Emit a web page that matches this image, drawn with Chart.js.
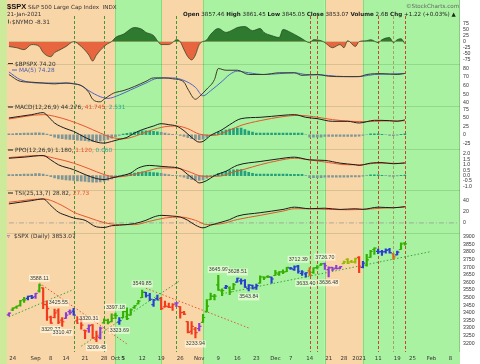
<!DOCTYPE html>
<html>
<head>
<meta charset="utf-8">
<script src="https://cdn.jsdelivr.net/npm/chart.js@4.4.1/dist/chart.umd.min.js"></script>
<style>
html,body{margin:0;padding:0;background:#fff}
canvas{display:block}
</style>
</head>
<body>
<canvas id="c" width="480" height="364"></canvas>
<script>
// trading days shown on the x axis
const months = [
  ['2020-08', [21,24,25,26,27,28,31]],
  ['2020-09', [1,2,3,4,8,9,10,11,14,15,16,17,18,21,22,23,24,25,28,29,30]],
  ['2020-10', [1,2,5,6,7,8,9,12,13,14,15,16,19,20,21,22,23,26,27,28,29,30]],
  ['2020-11', [2,3,4,5,6,9,10,11,12,13,16,17,18,19,20,23,24,25,27,30]],
  ['2020-12', [1,2,3,4,7,8,9,10,11,14,15,16,17,18,21,22,23,24,28,29,30,31]],
  ['2021-01', [4,5,6,7,8,11,12,13,14,15,19,20,21,22,25,26,27,28,29]],
  ['2021-02', [1,2,3,4,5,8,9,10]]
];
const dates = [];
months.forEach(([ym, days]) => days.forEach(d => dates.push(ym + '-' + String(d).padStart(2, '0'))));

const xTickDates = ['2020-08-24','2020-09-01','2020-09-08','2020-09-14','2020-09-21','2020-09-28','2020-10-01','2020-10-05',
  '2020-10-12','2020-10-19','2020-10-26','2020-11-02','2020-11-09','2020-11-16','2020-11-23','2020-12-01','2020-12-07',
  '2020-12-14','2020-12-21','2020-12-28','2021-01-04','2021-01-11','2021-01-19','2021-01-25','2021-02-01','2021-02-08'];
const xTickText = ['24','Sep','8','14','21','28','Oct','5','12','19','26','Nov','9','16','23','Dec','7','14','21','28','2021','11','19','25','Feb','8'];
const boldTicks = ['Sep','Oct','Nov','Dec','2021','Feb'];

// $SPX daily bars
const opens = [3386,3418,3435,3449,3486,3494,3509,3507,3543,3564,3453,3371,3369,3412,3352,3363,3407,3411,3346,3357,
  3285,3296,3320,3226,3237,3334,3350,3342,3385,3339,3368,3408,3384,3434,3459,3500,3534,3515,3453,3493,
  3494,3439,3440,3438,3464,3441,3403,3342,3278,3293,3296,3337,3406,3486,3508,3583,3544,3564,3563,3553,
  3601,3610,3612,3559,3580,3567,3595,3635,3638,3634,3645,3654,3669,3671,3694,3684,3706,3659,3656,3675,
  3666,3697,3713,3723,3684,3698,3693,3694,3723,3751,3736,3734,3764,3699,3713,3764,3816,3803,3802,3802,
  3815,3788,3781,3816,3857.46];
const highs = [3399,3432,3444,3481,3501,3509,3514,3528,3588.11,3564,3479,3379,3424,3425.55,3369,3402,3419,3429,3375,3362,
  3286,3320.31,3323,3279,3306,3360,3358,3393,3397.18,3369,3409,3432,3426,3447,3482,3549.85,3535,3527,3489,3516,
  3502,3476,3464,3461,3466,3441,3410,3342,3342,3305,3330,3389,3486,3529,3521,3645.99,3557,3581,3570,3593,
  3628.51,3623,3619,3585,3582,3589,3643,3636,3645,3634,3679,3670,3682,3699,3698,3708,3712.39,3678,3665,3697,
  3695,3711,3725,3726.70,3702,3698,3712,3703,3740,3756,3744,3760,3770,3738,3784,3811,3827,3818,3810,3820,
  3823,3789,3805,3859,3861.45];
const lows = [3380,3414,3428,3444,3468,3485,3493,3494,3535,3427,3349,3329.27,3366,3329,3310.47,3363,3389,3384,3328,3292,
  3229,3271,3232,3209.45,3228,3333,3327,3340,3361,3323.69,3368,3354,3384,3428,3458,3500,3502,3480,3441,3484,
  3420,3436,3433,3416,3440,3364,3388,3268,3260,3233.94,3280,3337,3405,3486,3485,3547,3512,3558,3519,3553,
  3601,3588,3567,3543.84,3556,3553,3594,3618,3630,3595,3645,3645,3657,3670,3685,3678,3661,3645,3633.40,3645,
  3659,3688,3711,3685,3636.48,3676,3689,3690,3723,3723,3730,3726,3663,3695,3706,3764,3784,3789,3777,3792,
  3792,3750,3780,3816,3845.05];
const closes = [3397,3431,3444,3479,3485,3508,3500,3527,3581,3455,3427,3332,3399,3339,3341,3384,3401,3385,3357,3319,
  3281,3316,3237,3247,3298,3352,3335,3363,3381,3348,3409,3361,3419,3447,3477,3534,3512,3489,3483,3484,
  3427,3443,3436,3453,3465,3401,3391,3271,3310,3270,3310,3369,3443,3510,3509,3551,3546,3573,3537,3585,
  3627,3610,3568,3582,3558,3578,3635,3630,3638,3622,3662,3669,3667,3699,3692,3702,3673,3668,3663,3647,
  3695,3701,3722,3709,3695,3687,3690,3703,3735,3727,3732,3756,3701,3727,3748,3804,3825,3800,3801,3810,
  3796,3768,3799,3852,3853.07];
const barKind = ('p gggg bb p g rrrrrr pp b rrr p rr p gggg b gggggg bbbb rrrr p rrrrr p gggggg b gg bbbbbb ggg b ' +
  'gggg bbbbb o ggg ppppp yyyy r b ggg bbbb o b gg').replace(/ /g, '').split('');

// value labels on the price panel
const annoIdx  = [8,13,11,14,21,23,28,29,35,49,55,60,63,76,78,83,84];
const annoSide = ['h','h','l','l','h','l','h','l','h','l','h','h','l','h','l','h','l'];

// trendlines [day index, price]
const trendFrom = [[0,3373],[8,3595],[19,3180],[36,3561],[56,3525]];
const trendTo   = [[17,3553],[31,3195],[45,3612],[63,3300],[111,3803]];
const trendKind = ['up','down','up','down','up'];

// indicator readings [day index, value]
const nymo = [[0,-20],[2,-25],[4,-33],[6,-12],[8,-20],[9,-45],[11,-62],[12,-45],[13,-37],[15,-20],[17,0],[19,-20],
  [21,-55],[22,-80],[23,-55],[25,-20],[26,-8],[27,0],[28,17],[30,30],[33,58],[35,50],[36,38],[38,25],[39,4],[40,-12],
  [42,-12],[43,-4],[44,8],[45,0],[46,-33],[47,-62],[48,-75],[49,-55],[50,-12],[52,8],[53,30],[55,54],[57,38],[59,50],
  [60,58],[62,62],[64,45],[66,54],[67,38],[69,25],[71,17],[72,50],[74,38],[76,21],[77,12],[79,-4],[80,8],[82,4],
  [83,-4],[85,-25],[87,-12],[88,-25],[89,4],[91,-20],[92,0],[94,4],[95,8],[97,-4],[98,8],[100,17],[101,-4],[102,8],
  [103,12],[104,-8.31]];
const bpspx = [[0,73],[3,65],[6,64],[9,63],[12,62],[15,63],[17,62],[19,60],[21,52],[22,44],[24,41],[25,44],[27,50],
  [28,52],[30,54],[33,59],[36,65],[38,69],[41,69],[43,68],[46,64],[47,56],[49,44],[50,47],[52,56],[54,67],[55,80],
  [57,78],[60,78],[63,73],[67,73],[71,75],[75,75],[77,72],[81,73],[84,71],[88,70.5],[92,70.5],[94,73],[98,74],
  [102,73],[104,74.2]];
const bpMa = [[0,76],[3,67],[8,63],[15,63],[19,60],[21,54],[24,47],[26,45],[29,49],[32,55],[36,63],[39,68.5],[43,69],
  [46,66],[49,58],[51,48],[53,54],[56,65],[58,73],[60,77],[63,75],[67,73],[71,74],[75,75],[78,73],[82,72.5],[86,71],
  [90,70.5],[93,71],[96,73],[100,73.5],[104,74.28]];
const macdLine = [[0,50],[3,55],[6,60],[9,66],[10,58],[12,35],[15,18],[17,10],[20,-8],[23,-22],[25,-25],[27,-20],
  [29,-14],[31,-8],[33,5],[35,15],[38,26],[40,33],[42,30],[44,26],[46,12],[48,-8],[50,-22],[51,-20],[53,-2],[56,15],
  [58,30],[61,48],[66,52],[72,58],[75,60],[78,52],[81,48],[85,40],[89,40],[92,35],[96,43],[100,42],[102,40],[104,44.28]];
const macdSig = [[0,47],[9,60],[12,55],[16,42],[20,25],[24,5],[27,-8],[30,-12],[33,-5],[37,12],[41,24],[44,26],[47,18],
  [50,2],[54,-2],[58,14],[61,28],[66,42],[72,54],[76,58],[80,54],[85,45],[90,40],[94,39],[98,41],[104,41.75]];
const macdHist = [3,3,4,4,5,5,5,6,6,5,2,
  -3,-7,-10,-12,-13,-14,-15,-16,-17,-18,-19,-20,-20,-19,-17,-14,-10,-6,-2,
  2,4,6,8,10,12,12,11,10,9,7,5,3,1,0,
  -2,-5,-9,-12,-14,-15,-13,-8,-3,2,7,11,14,17,19,20,
  20,15,11,8,5,5,5,5,5,5,5,5,5,5,5,5,5,0,
  -7,-7,-7,-7,-5,-5,-5,-5,-5,-5,-5,-5,-5,-4,-2,0,3,3,3,1,0,-2,-3,-1,1,2.5];
const ppoLine = [[0,1.6],[4,1.7],[9,1.85],[11,1.45],[13,1.0],[17,0.55],[20,0.1],[23,-0.27],[25,-0.36],[27,-0.22],
  [29,-0.06],[32,0.24],[34,0.7],[37,0.94],[40,0.85],[42,0.8],[45,0.64],[47,0.1],[49,-0.45],[50,-0.67],[52,-0.45],
  [54,0],[57,0.4],[60,0.95],[66,1.3],[71,1.55],[75,1.7],[79,1.45],[83,1.4],[87,1.15],[91,1.0],[92,0.94],[95,1.15],
  [98,1.2],[101,1.09],[104,1.18]];
const ppoSig = [[0,1.66],[8,1.85],[12,1.6],[17,1.15],[21,0.64],[25,0.1],[28,-0.12],[32,0.03],[36,0.4],[40,0.7],
  [44,0.7],[47,0.4],[51,-0.06],[55,-0.06],[59,0.33],[62,0.6],[66,1.0],[71,1.4],[75,1.6],[79,1.45],[84,1.2],[89,1.0],
  [92,1.0],[97,1.15],[104,1.12]];
const ppoHist = [0.09,0.09,0.12,0.12,0.15,0.15,0.15,0.18,0.18,0.15,0.06,
  -0.09,-0.21,-0.3,-0.36,-0.39,-0.42,-0.45,-0.48,-0.51,-0.54,-0.57,-0.6,-0.6,-0.57,-0.51,-0.42,-0.3,-0.18,-0.06,
  0.06,0.12,0.18,0.24,0.3,0.35,0.35,0.32,0.29,0.26,0.2,0.15,0.09,0.03,0,
  -0.06,-0.15,-0.27,-0.36,-0.42,-0.45,-0.39,-0.24,-0.09,0.06,0.2,0.31,0.39,0.47,0.53,0.55,
  0.55,0.41,0.3,0.22,0.14,0.14,0.14,0.14,0.14,0.14,0.14,0.14,0.14,0.13,0.13,0.13,0.13,0,
  -0.19,-0.19,-0.19,-0.19,-0.14,-0.14,-0.14,-0.14,-0.14,-0.14,-0.14,-0.13,-0.13,-0.11,-0.05,0,0.08,0.08,0.08,0.03,0,
  -0.05,-0.08,-0.03,0.03,0.06];
const tsiLine = [[0,33.6],[3,36.5],[6,39.4],[9,42.3],[11,30.7],[13,19],[15,13.3],[17,8.7],[20,4.6],[23,-7],[25,-8],
  [27,-5],[29,-4],[33,-1.2],[36,4.6],[38,10.4],[40,13.3],[43,12],[45,10.4],[47,4.6],[49,-4],[51,-8.7],[53,-4],[56,1.7],
  [58,5.8],[60,12],[66,18],[72,23.8],[75,27.8],[79,25],[83,26],[87,23.8],[91,25],[93,24],[97,27.8],[101,26.7],[104,28.82]];
const tsiSig = [[0,36.5],[9,42.3],[14,30.7],[17,19],[21,9.3],[25,0.6],[29,-3],[33,-3],[37,2.9],[41,8.7],[45,10.4],
  [49,4.6],[52,-3],[56,-1.2],[60,6],[66,13.3],[72,20.9],[75,25],[79,25],[84,23.8],[89,23.2],[93,23.8],[98,26],[104,27.73]];

// shaded zones (start day index) and marker lines
const zoneStart = [0, 28, 40, 51, 83, 93];
const zoneKind = ['tan', 'green', 'tan', 'green', 'tan', 'green'];
const markIdx  = [17, 25, 44, 79, 81, 97, 101, 104];
const markKind = ['g', 'g', 'g', 'r', 'r', 'r', 'o', 'r'];

// y tick values
const nymoTicks = [75, 50, 25, 0, -25, -50, -75];
const bpTicks = [80, 70, 60, 50, 40];
const macdTicks = [75, 50, 25, 0, -25];
const ppoTicks = [2.0, 1.5, 1.0, 0.5, 0.0, -0.5, -1.0];
const tsiTicks = [40, 20, 0];
const priceTicks = [3900,3850,3800,3750,3700,3650,3600,3550,3500,3450,3400,3350,3300,3250,3200];

const ZONE = {tan: '#f9d6a7', green: '#a9f2a1'};
const BAR = {g: '#34b000', r: '#f23b1e', b: '#2a3fd0', p: '#8b3fd0', o: '#d06a10', y: '#98b800'};
const MARK = {g: '#3d9b34', r: '#d2402c', o: '#a8a060'};
const SANS = 'DejaVu Sans';

const pts = arr => arr.map(([i, v]) => ({x: dates[i], y: v}));
const zoneAt = i => { let k = 0; zoneStart.forEach((s, j) => { if (i >= s) k = j; }); return zoneKind[k]; };
const histColor = c => (c.raw > 0 && zoneAt(c.dataIndex) === 'green') ? '#23a07c' : '#7d9696';

function line(data, yAxisID, color, extra) {
  return Object.assign({type: 'line', data: pts(data), yAxisID, borderColor: color, borderWidth: 1,
    pointRadius: 0, cubicInterpolationMode: 'monotone', order: 1}, extra || {});
}
function hist(data, yAxisID) {
  return {type: 'bar', data, yAxisID, backgroundColor: histColor, barThickness: 2, grouped: false, order: 3};
}
function yAxis(weight, min, max, ticks, fmt) {
  return {
    position: 'right', stack: 'panels', stackWeight: weight, min, max,
    grid: {display: false, drawTicks: false}, border: {display: false},
    afterBuildTicks: s => { s.ticks = ticks.map(v => ({value: v})); },
    afterFit: s => { s.width = 20; },
    ticks: {autoSkip: false, padding: 3, color: '#333', font: {family: 'Liberation Sans', size: 5.2},
      callback: fmt || (v => String(v))}
  };
}

const deco = {
  id: 'deco',
  beforeDraw(chart) {
    const c = chart.ctx, a = chart.chartArea, x = chart.scales.x;
    c.save();
    c.fillStyle = '#fff';
    c.fillRect(0, 0, chart.width, chart.height);
    c.fillStyle = '#cde99a';
    c.fillRect(0, 0, a.left, chart.height);
    const edges = zoneStart.map((s, j) => j === 0 ? a.left : x.getPixelForValue(s));
    edges.push(a.right);
    zoneKind.forEach((k, j) => {
      c.fillStyle = ZONE[k];
      c.fillRect(edges[j], 0, edges[j + 1] - edges[j], chart.height);
    });
    c.strokeStyle = '#80df78';
    c.lineWidth = 1;
    zoneKind.forEach((k, j) => {
      if (k !== 'green') return;
      [edges[j], edges[j + 1]].forEach(px => {
        if (px >= a.right - 1) return;
        c.beginPath(); c.moveTo(Math.round(px) + 0.5, 0); c.lineTo(Math.round(px) + 0.5, chart.height); c.stroke();
      });
    });
    // panel separators
    c.strokeStyle = 'rgba(40,90,30,0.16)';
    ['bp', 'macd', 'ppo', 'tsi', 'price'].forEach(id => {
      const y = Math.round(chart.scales[id].top) + 0.5;
      c.beginPath(); c.moveTo(a.left, y); c.lineTo(a.right, y); c.stroke();
    });
    c.strokeStyle = 'rgba(40,90,30,0.25)';
    c.beginPath(); c.moveTo(a.right - 0.5, 0); c.lineTo(a.right - 0.5, a.bottom); c.stroke();
    // dashed markers
    c.setLineDash([3, 2]);
    markIdx.forEach((m, j) => {
      const px = Math.round(x.getPixelForValue(m)) + 0.5;
      c.strokeStyle = MARK[markKind[j]];
      c.beginPath(); c.moveTo(px, 16); c.lineTo(px, a.bottom); c.stroke();
    });
    c.restore();
  },
  afterDatasetsDraw(chart) {
    const c = chart.ctx, x = chart.scales.x, y = chart.scales.price;
    c.save();
    c.lineWidth = 1.2;
    opens.forEach((o, i) => {
      const px = x.getPixelForValue(i);
      const yo = y.getPixelForValue(o), yc = y.getPixelForValue(closes[i]);
      c.strokeStyle = BAR[barKind[i]];
      c.beginPath();
      c.moveTo(px - 2.2, yo); c.lineTo(px, yo);
      c.moveTo(px, yc); c.lineTo(px + 2.2, yc);
      c.stroke();
    });
    c.font = '5.3px "Liberation Sans"';
    c.textAlign = 'center';
    c.textBaseline = 'middle';
    annoIdx.forEach((i, j) => {
      const hi = annoSide[j] === 'h';
      const v = hi ? highs[i] : lows[i];
      const px = x.getPixelForValue(i);
      const py = y.getPixelForValue(v) + (hi ? -6 : 6);
      const t = v.toFixed(2);
      const w = c.measureText(t).width;
      c.fillStyle = 'rgba(255,255,235,0.6)';
      c.fillRect(px - w / 2 - 1, py - 3.5, w + 2, 7);
      c.fillStyle = '#3a3a3a';
      c.fillText(t, px, py);
    });
    c.restore();
  },
  afterDraw(chart) {
    const c = chart.ctx;
    c.save();
    c.textBaseline = 'alphabetic';
    c.fillStyle = '#111';
    c.font = 'bold 7.5px "Liberation Sans"';
    c.fillText('$SPX', 7, 8.5);
    c.font = '5.6px "' + SANS + '"';
    c.fillStyle = '#333';
    c.fillText('S&P 500 Large Cap Index  INDX', 28, 8.5);
    c.fillText('21-Jan-2021', 7, 16);
    c.fillStyle = '#666';
    c.fillText('\u00a9StockCharts.com', 406, 8.3);
    const segs = [['Open', 1], [' 3857.46 ', 0], ['High', 1], [' 3861.45 ', 0], ['Low', 1], [' 3845.05 ', 0],
      ['Close', 1], [' 3853.07 ', 0], ['Volume', 1], [' 2.6B ', 0], ['Chg', 1], [' +1.22 (+0.03%) ', 0], ['\u25b2', 0]];
    let px = 183;
    c.fillStyle = '#222';
    segs.forEach(([t, b]) => {
      c.font = (b ? 'bold ' : '') + '5.6px "' + SANS + '"';
      c.fillText(t, px, 16);
      px += c.measureText(t).width;
    });
    // panel legends
    function legend(x0, y0, parts, dash) {
      c.font = '5.8px "' + SANS + '"';
      let p = x0;
      if (dash) {
        c.strokeStyle = dash; c.lineWidth = 1;
        c.beginPath(); c.moveTo(p, y0 - 2); c.lineTo(p + 5, y0 - 2); c.stroke();
        p += 7;
      }
      parts.forEach(([t, col]) => { c.fillStyle = col; c.fillText(t, p, y0); p += c.measureText(t).width; });
    }
    c.fillStyle = '#2e7b30'; c.fillRect(8, 19.5, 1, 4);
    c.fillStyle = '#e8663f'; c.fillRect(10, 21.5, 1, 2);
    legend(12, 24, [['$NYMO -8.31', '#333']]);
    legend(8, 65.5, [['$BPSPX 74.20', '#333']], '#3d3a26');
    legend(12, 72, [['MA(5) 74.28', '#4b5fb0']], '#4b67c8');
    legend(8, 109, [['MACD(12,26,9) 44.276, ', '#333'], ['41.745', '#e8552d'], [', 2.531', '#33a98a']], '#1c1c1c');
    legend(8, 152, [['PPO(12,26,9) 1.180, ', '#333'], ['1.120', '#e8552d'], [', 0.060', '#33a98a']], '#1c1c1c');
    legend(8, 195, [['TSI(25,13,7) 28.82, ', '#333'], ['27.73', '#e8552d']], '#1c1c1c');
    c.fillStyle = '#8b3fd0'; c.font = '5.8px "' + SANS + '"'; c.fillText('\u25bf', 7, 237.5);
    legend(14, 237.5, [['$SPX (Daily) 3853.07', '#333']]);
    c.restore();
  }
};

const datasets = [
  line(nymo, 'nymo', '#1f3d1f', {borderWidth: 0.7, fill: {target: {value: 0}, above: '#2e7b30', below: '#e8663f'}, order: 4}),
  line(bpspx, 'bp', '#3d3a26'),
  line(bpMa, 'bp', '#4b67c8', {order: 2}),
  hist(macdHist, 'macd'),
  line(macdLine, 'macd', '#1c1c1c'),
  line(macdSig, 'macd', '#e8552d', {order: 2}),
  hist(ppoHist, 'ppo'),
  line(ppoLine, 'ppo', '#1c1c1c'),
  line(ppoSig, 'ppo', '#e8552d', {order: 2}),
  {type: 'line', data: [{x: dates[0], y: 0}, {x: dates[dates.length - 1], y: 0}], yAxisID: 'tsi',
    borderColor: '#9a9a9a', borderWidth: 0.8, borderDash: [5, 2, 1, 2], pointRadius: 0, order: 3},
  line(tsiLine, 'tsi', '#1c1c1c'),
  line(tsiSig, 'tsi', '#e8552d', {order: 2}),
  {type: 'bar', data: lows.map((l, i) => [l, highs[i]]), yAxisID: 'price',
    backgroundColor: barKind.map(k => BAR[k]), barThickness: 1.5, grouped: false, order: 0}
];
trendFrom.forEach((f, j) => {
  datasets.push({type: 'line', yAxisID: 'price',
    data: [{x: dates[f[0]], y: f[1]}, {x: dates[trendTo[j][0]], y: trendTo[j][1]}],
    borderColor: trendKind[j] === 'up' ? '#3fa53a' : '#e2583e', borderWidth: 1, borderDash: [1.5, 2],
    pointRadius: 0, tension: 0, order: 1});
});

new Chart(document.getElementById('c'), {
  type: 'bar',
  data: {labels: dates, datasets},
  options: {
    responsive: false, animation: false, events: [], devicePixelRatio: 1,
    layout: {padding: {left: 7, top: 1, right: 0, bottom: 0}},
    plugins: {legend: {display: false}, tooltip: {enabled: false}},
    scales: {
      x: {
        type: 'category', offset: true,
        grid: {display: false, drawTicks: false}, border: {display: false},
        afterFit: s => { s.height = 12; },
        ticks: {
          autoSkip: false, maxRotation: 0, padding: 3, color: '#333',
          font: c => ({family: SANS, size: 5.4, weight: boldTicks.includes(xTickText[xTickDates.indexOf(dates[c.index])]) ? 'bold' : 'normal'}),
          callback: (v, i) => { const k = xTickDates.indexOf(dates[i]); return k < 0 ? null : xTickText[k]; }
        }
      },
      nymo: yAxis(59, -93, 146, nymoTicks),
      bp: yAxis(42, 36.5, 85, bpTicks),
      macd: yAxis(44, -42.6, 86.8, macdTicks),
      ppo: yAxis(42, -1.36, 2.45, ppoTicks, v => v.toFixed(1)),
      tsi: yAxis(43, -17.4, 57.4, tsiTicks),
      price: yAxis(121, 3142, 3926, priceTicks)
    }
  },
  plugins: [deco]
});
</script>
</body>
</html>
